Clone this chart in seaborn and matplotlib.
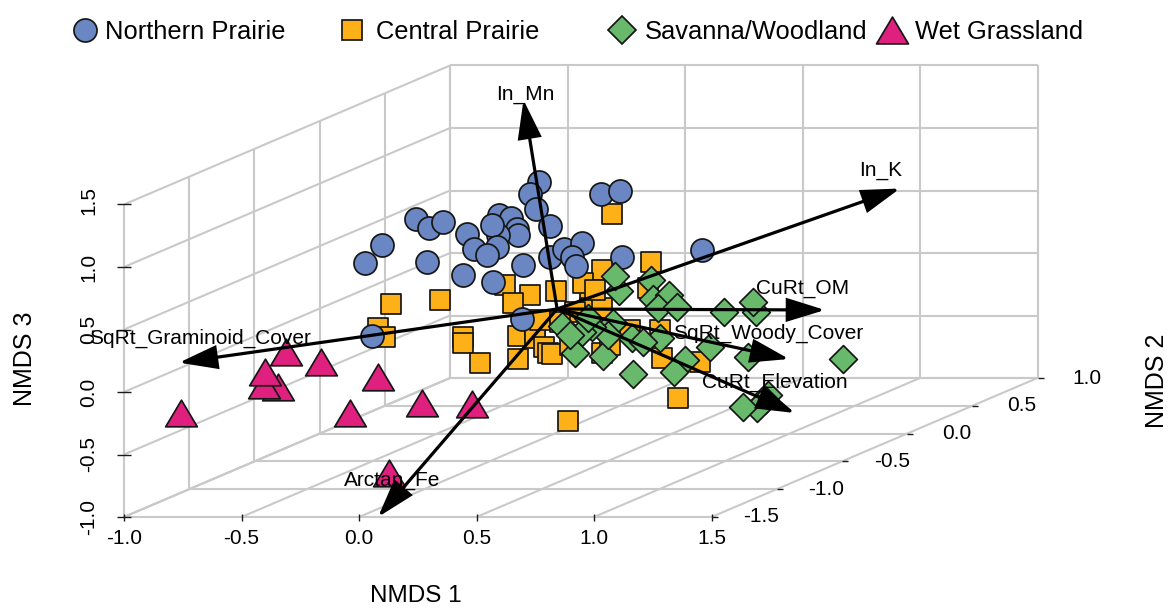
import numpy as np
import pandas as pd
import matplotlib
matplotlib.use("Agg")
import matplotlib.pyplot as plt
from matplotlib.lines import Line2D
from matplotlib.markers import MarkerStyle
from matplotlib.path import Path
import seaborn as sns

# Site scores: horizontal and vertical position in plot-plane NMDS units
north_x = [.766,.728,.753,.813,.243,.298,.357,.46,.596,.647,.672,.677,.591,.566,.587,.489,.545,.098,.026,.289,.443,.570,.698,.813,.872,.949,.906,.923,1.03,1.111,1.119,1.46,.694,.055]
north_z = [1.68,1.584,1.464,1.328,1.384,1.312,1.36,1.264,1.416,1.392,1.304,1.256,1.256,1.336,1.16,1.144,1.096,1.176,1.032,1.04,.936,.88,1.016,1.08,1.144,1.192,1.08,1.008,1.584,1.608,1.08,1.136,.584,.448]
central_x = [.621,.728,.655,.838,.345,.443,.443,.515,.677,.677,.749,.749,.787,.804,.821,.983,.983,1.034,.953,1.243,1.23,1.281,1.034,1.289,1.451,1.357,1.077,.136,.081,.111,.889,1.034,1.153,1.068,.898,.77,.919,1.004,.855]
central_z = [.856,.776,.712,.808,.736,.44,.392,.232,.448,.264,.48,.432,.36,.312,.304,.792,.672,.976,.872,1.04,.832,.496,.312,.272,.24,-.048,1.424,.704,.512,.44,-.232,.672,.496,.376,.376,.576,.64,.816,.56]
savanna_x = [.864,.919,1.038,1.166,1.106,1.089,1.243,1.251,1.319,1.272,1.353,1.553,1.689,1.677,1.281,1.162,1.209,1.081,1.06,.991,.949,.898,.974,1.387,1.34,1.494,1.655,2.06,1.74,1.728,1.694,1.634]
savanna_z = [.528,.312,.288,.144,.808,.928,.896,.744,.776,.672,.68,.64,.64,.72,.432,.432,.4,.552,.456,.52,.48,.456,.592,.256,.16,.36,.28,.264,-.024,-.064,-.128,-.12]
wet_x = [-.757,-.345,-.404,-.4,-.311,-.162,-.038,.081,.268,.481,.128]
wet_z = [-.168,.04,.056,.16,.32,.24,-.168,.12,-.088,-.096,-.648]

group_names = ["Northern Prairie", "Central Prairie", "Savanna/Woodland", "Wet Grassland"]

# Environmental vectors
vector_names = ["In_Mn", "In_K", "CuRt_OM", "SqRt_Woody_Cover", "CuRt_Elevation", "SqRt_Graminoid_Cover", "Arctan_Fe"]
vector_x = [.70, 2.302, 1.983, 1.83, 1.855, -.766, .081]
vector_z = [2.336, 1.628, .656, .264, -.168, .235, -1.0]
vector_origin = (.843, .664)
label_x = [.706, 2.221, 1.889, 1.74, 1.77, -.677, .14]
label_z = [2.376, 1.776, .832, .472, .08, .432, -.704]

# Axis ticks
x_ticks = [-1.0, -0.5, 0.0, 0.5, 1.0, 1.5]
y_ticks = [-1.5, -1.0, -0.5, 0.0, 0.5, 1.0]
z_ticks = [-1.0, -0.5, 0.0, 0.5, 1.0, 1.5]

# Oblique projection of the box
SHEAR_X = 0.5549
SHEAR_Z = 0.4448


def proj(x, y, z):
    return x + SHEAR_X * (y - y_ticks[0]), z + SHEAR_Z * (y - y_ticks[0])


sns.set_theme(style="white")
plt.rcParams["font.family"] = ["Liberation Sans", "DejaVu Sans"]
plt.rcParams["text.color"] = "black"

W, H = 1169, 608
fig = plt.figure(figsize=(W / 100, H / 100), dpi=100)
ax = fig.add_axes([0, 0, 1, 1])
ax.axis("off")

GRID = "#c9c9c9"
gkw = dict(color=GRID, lw=1.5, zorder=1, solid_capstyle="butt")
x0, x1 = x_ticks[0], x_ticks[-1]
y0, y1 = y_ticks[0], y_ticks[-1]
z0, z1 = z_ticks[0], z_ticks[-1]


def seg(a, b, **kw):
    pa, pb = proj(*a), proj(*b)
    ax.plot([pa[0], pb[0]], [pa[1], pb[1]], **kw)


for x in x_ticks:
    seg((x, y0, z0), (x, y1, z0), **gkw)          # floor, depth lines
    seg((x, y1, z0), (x, y1, z1), **gkw)          # back wall verticals
for y in y_ticks:
    seg((x0, y, z0), (x1, y, z0), **gkw)          # floor, cross lines
    seg((x0, y, z0), (x0, y, z1), **gkw)          # left wall verticals
for z in z_ticks:
    seg((x0, y0, z), (x0, y1, z), **gkw)          # left wall slants
    seg((x0, y1, z), (x1, y1, z), **gkw)          # back wall horizontals

tkw = dict(color="#1a1a1a", lw=1.0, zorder=2, solid_capstyle="butt")
TS = 15
for x in x_ticks:
    seg((x, y0, z0 - .028), (x, y0, z0 + .028), **tkw)
    ax.text(x, z0 - .176, f"{x:.1f}", ha="center", va="center", fontsize=TS)
for z in z_ticks:
    seg((x0 - .028, y0, z), (x0 + .028, y0, z), **tkw)
    ax.text(x0 - .149, z + (.03 if z > 1 else 0), f"{z:.1f}", rotation=90, ha="center", va="center", fontsize=TS)
for y in y_ticks:
    px, pz = proj(x1, y, z0)
    ax.plot([px, px + .026], [pz, pz], **tkw)
    ax.text(px + .212, pz, f"{y:.1f}", ha="center", va="center", fontsize=TS)

triangle = Path([(-1, -.84), (1, -.84), (0, .84), (-1, -.84)], closed=True)
EDGE = "#161616"
LW = 1.25
specs = [
    (central_x, central_z, "s", 225, "#fdb017", 4),
    (north_x, north_z, "o", 275, "#6a86c3", 5),
    (savanna_x, savanna_z, "D", 200, "#69b96c", 6),
    (wet_x, wet_z, MarkerStyle(triangle), 520, "#e0207f", 7),
]
for xs, zs, m, s, c, zo in specs:
    df = pd.DataFrame({"x": xs, "z": zs})
    sns.scatterplot(data=df, x="x", y="z", marker=m, s=s, color=c, edgecolor=EDGE,
                    linewidth=LW, ax=ax, legend=False, zorder=zo, clip_on=False)

for name, vx, vz, lx, lz in zip(vector_names, vector_x, vector_z, label_x, label_z):
    ax.annotate("", xy=(vx, vz), xytext=vector_origin, zorder=9,
                arrowprops=dict(arrowstyle="-|>,head_length=1.55,head_width=.48", mutation_scale=15,
                                color="black", lw=2.3, shrinkA=0, shrinkB=0, joinstyle="miter"))
    ax.text(lx, lz, name, ha="center", va="center", fontsize=15, zorder=10)

ax.set_xlim(-359 / 235, (W - 359) / 235)
ax.set_ylim((392 - H) / 125, 392 / 125)
ax.set_xlabel("")
ax.set_ylabel("")

ax.text(416 / W, 1 - 595.5 / H, "NMDS 1", transform=ax.transAxes, ha="center", va="center", fontsize=17.5)
ax.text(25 / W, 1 - 359 / H, "NMDS 3", transform=ax.transAxes, ha="center", va="center", rotation=90, fontsize=18)
ax.text(1157 / W, 1 - 381 / H, "NMDS 2", transform=ax.transAxes, ha="center", va="center", rotation=90, fontsize=18)

# One legend per entry: the entries sit at unequal spacing
legend_left = [72, 339, 609.5, 879]
legend_pad = [.29, .446, .39, .41]
legend_colors = ["#6a86c3", "#fdb017", "#69b96c", "#e0207f"]
legend_markers = ["o", "s", "D", MarkerStyle(triangle)]
legend_sizes = [16.6, 15, 14.3, 23]
for name, left, pad, col, mk, ms in zip(group_names, legend_left, legend_pad, legend_colors, legend_markers, legend_sizes):
    h = Line2D([], [], linestyle="none", marker=mk, markersize=ms, markerfacecolor=col,
               markeredgecolor=EDGE, markeredgewidth=LW)
    leg = fig.legend(handles=[h], labels=[name], loc="center left", bbox_to_anchor=(left / W, 1 - 32 / H),
                     frameon=False, fontsize=18.4, borderpad=0, borderaxespad=0, handlelength=1,
                     handletextpad=pad)

fig.savefig("out.png", dpi=100)
